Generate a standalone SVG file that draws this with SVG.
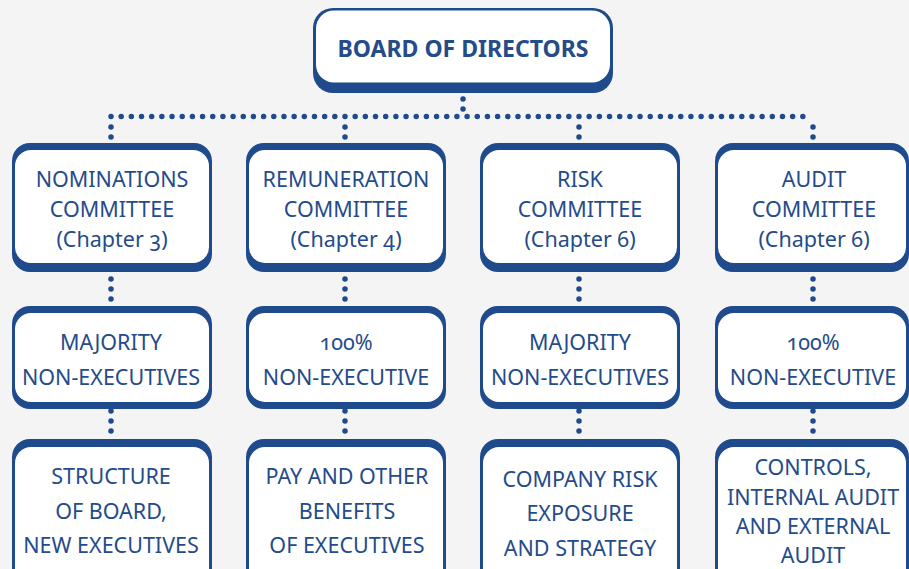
<svg xmlns="http://www.w3.org/2000/svg" width="909" height="569" viewBox="0 0 909 569">
<style>
.o{fill:#1f4a8c}
.i{fill:#ffffff}
text{font-family:"Noto Sans","Open Sans","Liberation Sans",sans-serif;fill:#244b8a;text-anchor:middle;font-size:21.5px;font-variant-numeric:oldstyle-nums}
.b{font-weight:bold;font-size:23px}
.d{stroke:#1f4a8c;stroke-width:5.5;stroke-linecap:round;fill:none}
circle{fill:#1f4a8c}
</style>
<defs>
<g id="v3"><circle cx="0" cy="0" r="2.75"/><circle cx="0" cy="10" r="2.75"/><circle cx="0" cy="20" r="2.75"/></g>
</defs>
<rect width="909" height="569" fill="#f4f4f4"/>
<g id="connectors">
<circle cx="463" cy="99" r="2.75"/>
<circle cx="463" cy="109" r="2.75"/>
<line class="d" x1="111" y1="116.5" x2="813" y2="116.5" stroke-dasharray="0 10.174"/>
<circle cx="111" cy="127" r="2.75"/><circle cx="111" cy="137" r="2.75"/>
<circle cx="345" cy="127" r="2.75"/><circle cx="345" cy="137" r="2.75"/>
<circle cx="579" cy="127" r="2.75"/><circle cx="579" cy="137" r="2.75"/>
<circle cx="813" cy="127" r="2.75"/><circle cx="813" cy="137" r="2.75"/>
<use href="#v3" x="111" y="279"/>
<use href="#v3" x="345" y="279"/>
<use href="#v3" x="579" y="279"/>
<use href="#v3" x="813" y="279"/>
<use href="#v3" x="111" y="411"/>
<use href="#v3" x="345" y="411"/>
<use href="#v3" x="579" y="411"/>
<use href="#v3" x="813" y="411"/>
</g>
<g id="board">
<rect class="o" x="313" y="8" width="300" height="85" rx="20"/>
<rect class="i" x="316" y="10.5" width="294" height="72" rx="18"/>
<text class="b" x="463" y="57">BOARD OF DIRECTORS</text>
</g>
<g id="nominations">
<rect class="o" x="12" y="143" width="200" height="129" rx="18"/>
<rect class="i" x="15" y="150" width="194" height="113" rx="16"/>
<text x="112" y="187">NOMINATIONS</text>
<text x="112" y="217">COMMITTEE</text>
<text x="112" y="247">(Chapter 3)</text>
</g>
<g id="remuneration">
<rect class="o" x="246" y="143" width="200" height="129" rx="18"/>
<rect class="i" x="249" y="150" width="194" height="113" rx="16"/>
<text x="346" y="187">REMUNERATION</text>
<text x="346" y="217">COMMITTEE</text>
<text x="346" y="247">(Chapter 4)</text>
</g>
<g id="risk">
<rect class="o" x="480" y="143" width="200" height="129" rx="18"/>
<rect class="i" x="483" y="150" width="194" height="113" rx="16"/>
<text x="580" y="187">RISK</text>
<text x="580" y="217">COMMITTEE</text>
<text x="580" y="247">(Chapter 6)</text>
</g>
<g id="audit">
<rect class="o" x="715" y="143" width="194" height="129" rx="18"/>
<rect class="i" x="718" y="150" width="188" height="113" rx="16"/>
<text x="814" y="187">AUDIT</text>
<text x="814" y="217">COMMITTEE</text>
<text x="814" y="247">(Chapter 6)</text>
</g>
<g id="nominations-composition">
<rect class="o" x="12" y="306" width="200" height="103" rx="18"/>
<rect class="i" x="15" y="313" width="194" height="89" rx="16"/>
<text x="111" y="350">MAJORITY</text>
<text x="111" y="385">NON-EXECUTIVES</text>
</g>
<g id="remuneration-composition">
<rect class="o" x="246" y="306" width="200" height="103" rx="18"/>
<rect class="i" x="249" y="313" width="194" height="89" rx="16"/>
<text x="346" y="350">100%</text>
<text x="346" y="385">NON-EXECUTIVE</text>
</g>
<g id="risk-composition">
<rect class="o" x="480" y="306" width="200" height="103" rx="18"/>
<rect class="i" x="483" y="313" width="194" height="89" rx="16"/>
<text x="580" y="350">MAJORITY</text>
<text x="580" y="385">NON-EXECUTIVES</text>
</g>
<g id="audit-composition">
<rect class="o" x="715" y="306" width="194" height="103" rx="18"/>
<rect class="i" x="718" y="313" width="188" height="89" rx="16"/>
<text x="813" y="350">100%</text>
<text x="813" y="385">NON-EXECUTIVE</text>
</g>
<g id="nominations-role">
<rect class="o" x="12" y="439" width="200" height="150" rx="18"/>
<rect class="i" x="15" y="447" width="194" height="140" rx="16"/>
<text x="111" y="484">STRUCTURE</text>
<text x="111" y="519">OF BOARD,</text>
<text x="111" y="553">NEW EXECUTIVES</text>
</g>
<g id="remuneration-role">
<rect class="o" x="246" y="439" width="200" height="150" rx="18"/>
<rect class="i" x="249" y="447" width="194" height="140" rx="16"/>
<text x="347" y="484">PAY AND OTHER</text>
<text x="347" y="519">BENEFITS</text>
<text x="347" y="553">OF EXECUTIVES</text>
</g>
<g id="risk-role">
<rect class="o" x="480" y="439" width="200" height="150" rx="18"/>
<rect class="i" x="483" y="447" width="194" height="140" rx="16"/>
<text x="580" y="487">COMPANY RISK</text>
<text x="580" y="521">EXPOSURE</text>
<text x="580" y="556">AND STRATEGY</text>
</g>
<g id="audit-role">
<rect class="o" x="715" y="439" width="194" height="150" rx="18"/>
<rect class="i" x="718" y="447" width="188" height="140" rx="16"/>
<text x="813" y="475">CONTROLS,</text>
<text x="813" y="505">INTERNAL AUDIT</text>
<text x="813" y="534">AND EXTERNAL</text>
<text x="813" y="563">AUDIT</text>
</g>
</svg>
